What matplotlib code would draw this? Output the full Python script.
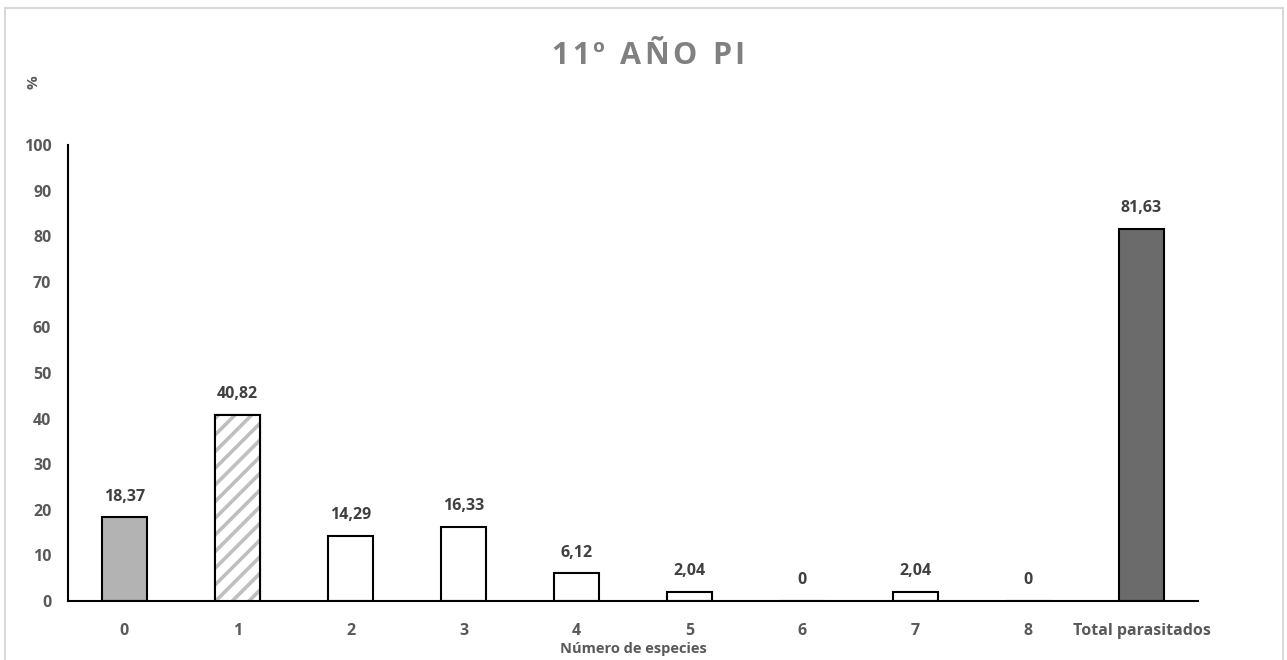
import numpy as np
import matplotlib.pyplot as plt
from matplotlib.patches import Rectangle

# data
categories = ['0', '1', '2', '3', '4', '5', '6', '7', '8', 'Total parasitados']
values = [18.37, 40.82, 14.29, 16.33, 6.12, 2.04, 0, 2.04, 0, 81.63]
labels = ['18,37', '40,82', '14,29', '16,33', '6,12', '2,04', '0', '2,04', '0', '81,63']
title = '11º AÑO PI'

plt.rcParams['font.family'] = ['Open Sans', 'DejaVu Sans']
plt.rcParams['hatch.linewidth'] = 2.6

txt = '#595959'

fig = plt.figure(figsize=(12.87, 6.6), dpi=100)
fig.patches.append(Rectangle((5 / 1287, -0.01), 1278 / 1287, 1 - 8 / 660 + 0.01,
                             transform=fig.transFigure, fill=False,
                             edgecolor='#d9d9d9', linewidth=1.5))
ax = fig.add_axes([68 / 1287, 59 / 660, 1130 / 1287, 456 / 660])

x = np.arange(len(categories))
faces = ['#b3b3b3', 'white'] + ['white'] * 7 + ['#6b6b6b']
w = 0.39
ax.bar(x, values, width=w, color=faces, edgecolor='black', linewidth=1.5, zorder=2)
# hatched bar (1 especie)
ax.bar(x[1], values[1], width=w, color='white', edgecolor='#bfbfbf', hatch='//',
       linewidth=0, zorder=3)
ax.bar(x[1], values[1], width=w, fill=False, edgecolor='black', linewidth=1.5, zorder=4)

for xi, v, lab in zip(x, values, labels):
    ax.annotate(lab, (xi, v), xytext=(0, 9), textcoords='offset points',
                ha='center', va='bottom', fontsize=11.5, fontweight='bold', color='#404040')

ax.set_xlim(-0.5, len(categories) - 0.5)
ax.set_ylim(0, 100)
ax.set_yticks(np.arange(0, 101, 10))
ax.set_xticks(x)
ax.set_xticklabels(categories)
ax.tick_params(axis='y', length=0, pad=12, labelsize=11.5, labelcolor=txt)
ax.tick_params(axis='x', length=0, pad=16, labelsize=11.5, labelcolor=txt)
for t in ax.get_xticklabels() + ax.get_yticklabels():
    t.set_fontweight('bold')

for s in ['top', 'right']:
    ax.spines[s].set_visible(False)
ax.spines['left'].set_linewidth(1.5)
ax.spines['bottom'].set_linewidth(1.5)

ax.set_xlabel('Número de especies', fontsize=10.5, fontweight='bold', color=txt, labelpad=2)
fig.text(33 / 1287, 1 - 82 / 660, '%', rotation=90, ha='center', va='center',
         fontsize=11, fontweight='bold', color=txt)

# title with letter spacing
fig.canvas.draw()
renderer = fig.canvas.get_renderer()
spacing = 3
pieces = []
total = 0
for ch in title:
    t = fig.text(0, 0, ch if ch != ' ' else '\u00a0', fontsize=22, fontweight='bold',
                 color='#808080', va='center', ha='left')
    bw = t.get_window_extent(renderer).width if ch != ' ' else 10
    pieces.append((t, bw))
    total += bw + spacing
total -= spacing
xpos = 648 - total / 2
for t, bw in pieces:
    t.set_position((xpos / 1287, 1 - 56 / 660))
    xpos += bw + spacing

fig.savefig('out.png', dpi=100)
